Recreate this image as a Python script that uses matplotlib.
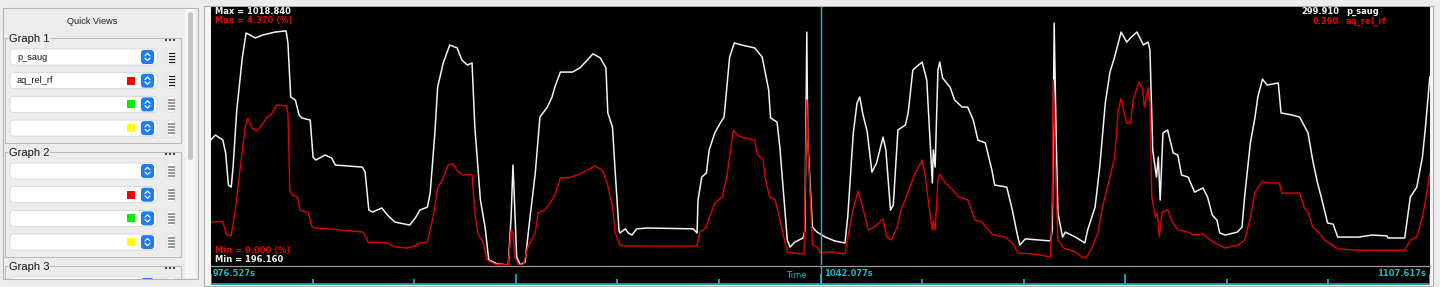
import matplotlib
matplotlib.use("Agg")
import matplotlib.pyplot as plt
import numpy as np
from matplotlib.patches import Rectangle, FancyBboxPatch

# ---- data ----
T_START, T_END, T_CURSOR = 976.527, 1107.617, 1042.077
N_TICKS = 12

WHITE_NAME, WHITE_MIN, WHITE_MAX, WHITE_CUR = "p_saug", 196.160, 1018.840, 299.910
RED_NAME, RED_MIN, RED_MAX, RED_CUR = "aq_rel_rf", 0.000, 4.370, 0.290

white_t = [976.5, 977.0, 977.8, 978.1, 978.4, 978.7, 978.9, 979.3, 979.9, 980.3, 981.3, 982.1, 983.4, 984.6,
           984.8, 985.1, 985.6, 986.0, 986.3, 987.2, 987.5, 987.8, 988.8, 989.5, 989.9, 992.8, 993.1, 993.5,
           993.9, 994.9, 995.5, 996.3, 997.9, 998.5, 999.0, 999.8, 1000.1, 1000.6, 1000.9, 1001.5, 1002.2,
           1003.0, 1003.5, 1004.1, 1004.6, 1004.9, 1005.5, 1006.0, 1006.4, 1007.3, 1008.5, 1008.8, 1009.0,
           1009.1, 1009.4, 1009.8, 1010.3, 1010.8, 1011.4, 1011.9, 1012.7, 1013.2, 1013.5, 1014.1, 1015.4,
           1016.2, 1017.0, 1017.6, 1018.4, 1019.0, 1019.2, 1019.7, 1020.0, 1020.4, 1020.5, 1021.1, 1021.4,
           1021.8, 1022.3, 1023.5, 1028.4, 1028.8, 1028.9, 1029.3, 1029.8, 1030.1, 1030.7, 1031.3, 1031.7,
           1032.3, 1032.8, 1033.6, 1035.0, 1035.8, 1036.5, 1036.7, 1037.4, 1037.7, 1038.5, 1038.8, 1039.3,
           1040.2, 1040.4, 1040.6, 1040.7, 1041.2, 1041.7, 1042.6, 1043.6, 1044.7, 1045.0, 1045.6, 1046.0,
           1046.3, 1046.6, 1047.1, 1047.6, 1048.1, 1048.8, 1049.1, 1049.6, 1049.9, 1050.4, 1051.2, 1051.5,
           1052.0, 1053.0, 1053.5, 1053.9, 1054.1, 1054.2, 1054.4, 1054.7, 1054.9, 1055.2, 1056.0, 1056.5,
           1057.3, 1057.9, 1058.5, 1059.0, 1059.8, 1060.5, 1060.8, 1062.1, 1062.7, 1063.2, 1063.5, 1064.1,
           1066.8, 1067.0, 1067.2, 1067.4, 1067.6, 1068.1, 1068.4, 1069.5, 1070.5, 1070.8, 1071.6, 1072.1,
           1072.7, 1073.2, 1073.7, 1074.4, 1075.0, 1075.5, 1076.1, 1076.8, 1077.3, 1077.5, 1077.8, 1078.2,
           1078.4, 1078.6, 1078.9, 1079.4, 1080.0, 1080.5, 1080.9, 1081.6, 1082.3, 1083.2, 1083.7, 1084.2,
           1084.7, 1085.0, 1085.6, 1086.9, 1087.4, 1087.7, 1088.3, 1088.8, 1089.1, 1089.6, 1090.1, 1091.3,
           1091.6, 1092.8, 1093.6, 1094.5, 1095.0, 1095.5, 1096.0, 1096.6, 1097.2, 1097.7, 1099.9, 1101.4,
           1103.0, 1103.1, 1104.9, 1105.5, 1106.2, 1106.8, 1107.1, 1107.6]
white_v = [621, 638, 621, 577, 468, 461, 529, 723, 903, 985, 968, 978, 988, 992,
           951, 767, 757, 706, 696, 689, 563, 553, 570, 560, 536, 529, 512, 383,
           376, 390, 366, 342, 332, 356, 383, 393, 441, 645, 801, 883, 944,
           934, 893, 876, 883, 665, 417, 325, 213, 200, 196.2, 359, 536,
           461, 223, 196.2, 206, 349, 509, 699, 733, 767, 801, 852, 852,
           866, 893, 914, 900, 866, 713, 665, 509, 315, 305, 319, 305,
           298, 319, 322, 319, 305, 417, 495, 509, 587, 645, 679, 699,
           903, 951, 944, 934, 903, 791, 696, 682, 597, 281, 257, 274,
           288, 315, 988, 621, 325, 308, 291, 278, 271, 359, 645, 747,
           767, 713, 648, 512, 543, 631, 587, 383, 400, 655, 672, 713,
           859, 886, 825, 587, 475, 587, 529, 859, 886, 832, 801, 757,
           733, 733, 689, 621, 611, 519, 468, 461, 383, 305, 264, 285,
           278, 315, 1018.8, 655, 373, 291, 308, 291, 271, 315, 393, 529,
           747, 852, 903, 988, 954, 971, 988, 944, 954, 927, 587, 495,
           563, 417, 645, 655, 577, 570, 502, 495, 444, 458, 427, 366,
           349, 305, 298, 308, 325, 434, 611, 699, 767, 828, 808, 815,
           713, 706, 699, 645, 553, 478, 417, 339, 335, 291, 291, 298,
           295, 288, 288, 427, 461, 563, 655, 835]

red_t = [976.5, 977.8, 978.2, 978.7, 979.1, 979.6, 980.2, 980.5, 980.9, 981.5, 982.0, 982.5, 983.1, 983.6,
         984.6, 984.8, 985.0, 985.3, 985.8, 986.1, 987.0, 987.4, 987.9, 989.6, 990.1, 992.8, 993.1, 993.4,
         994.4, 995.5, 996.3, 997.6, 998.2, 999.0, 999.8, 1000.4, 1000.9, 1001.4, 1002.0, 1002.5, 1003.1,
         1003.6, 1004.6, 1004.9, 1005.2, 1005.8, 1006.2, 1007.1, 1008.5, 1008.8, 1009.0, 1009.2, 1009.6,
         1010.1, 1010.6, 1011.4, 1011.7, 1012.4, 1013.0, 1013.5, 1014.1, 1014.9, 1016.0, 1017.0, 1017.8,
         1018.6, 1019.1, 1019.7, 1020.0, 1020.5, 1021.1, 1028.8, 1029.1, 1029.7, 1030.7, 1031.5, 1032.0,
         1032.7, 1033.1, 1033.6, 1035.0, 1035.3, 1035.9, 1036.1, 1036.6, 1037.2, 1038.5, 1039.3, 1040.3,
         1040.6, 1040.7, 1041.2, 1041.7, 1042.1, 1043.3, 1044.7, 1045.5, 1046.1, 1046.6, 1047.2, 1047.9,
         1048.8, 1049.2, 1049.7, 1050.3, 1050.8, 1051.5, 1052.2, 1053.0, 1053.3, 1053.9, 1054.1, 1054.2,
         1054.4, 1054.7, 1054.9, 1055.5, 1056.3, 1056.9, 1057.9, 1058.7, 1059.4, 1060.1, 1060.6, 1061.9,
         1062.7, 1063.3, 1065.1, 1066.8, 1067.0, 1067.1, 1067.4, 1067.6, 1068.2, 1069.5, 1070.3, 1070.7,
         1071.3, 1071.9, 1072.4, 1073.2, 1073.7, 1074.1, 1074.4, 1074.6, 1075.0, 1075.4, 1075.7, 1076.3,
         1076.7, 1076.9, 1077.3, 1077.5, 1077.7, 1078.1, 1078.3, 1078.5, 1078.8, 1079.4, 1079.9, 1080.5,
         1081.6, 1082.1, 1083.2, 1083.7, 1084.5, 1085.6, 1087.0, 1087.7, 1088.3, 1088.8, 1089.6, 1090.1,
         1091.4, 1091.7, 1093.6, 1094.1, 1094.5, 1095.0, 1095.6, 1096.3, 1097.1, 1097.7, 1099.9, 1104.9,
         1105.5, 1106.2, 1106.8, 1107.2, 1107.6]
red_v = [1.02, 1.02, 0.71, 0.69, 1.23, 2.17, 3.26, 3.47, 3.24, 3.17, 3.31, 3.47, 3.59, 3.78,
         3.76, 3.59, 1.77, 1.65, 1.61, 1.30, 1.23, 0.90, 0.87, 0.85, 0.83, 0.78, 0.71, 0.54,
         0.54, 0.52, 0.43, 0.40, 0.43, 0.52, 0.54, 1.13, 1.82, 2.01, 2.36, 2.39, 2.20,
         2.13, 2.13, 1.23, 0.76, 0.52, 0.12, 0.02, 0.0, 0.83, 0.76, 0.19, 0.0,
         0.0, 0.43, 0.76, 1.23, 1.30, 1.46, 1.65, 2.06, 2.06, 2.13, 2.24, 2.34,
         2.24, 1.96, 1.37, 0.76, 0.47, 0.45, 0.45, 0.78, 0.87, 1.46, 1.61, 2.08,
         3.19, 3.07, 3.02, 2.95, 2.60, 2.48, 2.08, 1.61, 1.54, 0.31, 0.28, 0.26,
         3.90, 2.95, 0.47, 0.43, 0.29, 0.31, 0.26, 1.23, 1.75, 1.37, 0.83, 0.90,
         1.09, 0.66, 0.59, 0.90, 1.35, 1.72, 2.15, 2.48, 2.15, 1.13, 0.83, 1.06,
         0.83, 2.01, 2.15, 1.94, 1.77, 1.61, 1.54, 1.06, 1.02, 0.83, 0.71, 0.66,
         0.52, 0.28, 0.26, 0.19, 1.54, 4.37, 1.84, 0.59, 0.40, 0.31, 0.17, 0.19,
         0.43, 0.76, 1.37, 2.08, 2.55, 3.66, 3.94, 3.73, 3.35, 3.35, 3.90, 4.32,
         4.18, 3.73, 4.18, 3.83, 1.61, 1.13, 1.23, 0.66, 1.25, 1.30, 1.02, 0.83,
         0.78, 0.71, 0.73, 0.64, 0.52, 0.40, 0.47, 0.59, 1.13, 1.72, 1.98, 1.94,
         1.94, 1.70, 1.70, 1.35, 1.25, 0.90, 0.78, 0.59, 0.47, 0.38, 0.35, 0.35,
         0.59, 0.66, 1.13, 1.61, 2.17]

# quick-view panel: graph -> channel names / colour swatches
graph_names = ["Graph 1", "Graph 2", "Graph 3"]
graph_channels = [[WHITE_NAME, RED_NAME, "", ""], ["", "", "", ""], [""]]
slot_colors = [None, "#ff0000", "#00ee00", "#ffff00"]

# ---- colours / fonts ----
BG = "#ececec"
CYAN = "#1fb8c2"
WHITE = "#f2f2f2"
RED = "#e00000"
plt.rcParams["font.family"] = ["DejaVu Sans"]
UI_FONT = ["Liberation Sans", "DejaVu Sans"]

W, H = 1440, 287
fig = plt.figure(figsize=(W / 100, H / 100), dpi=100, facecolor=BG)

# pixel-space overlay for the window chrome
ui = fig.add_axes([0, 0, 1, 1])
ui.set_xlim(0, W)
ui.set_ylim(H, 0)
ui.axis("off")

# ---- left "Quick Views" panel ----
panel = Rectangle((3, 8), 195, 271, fc=BG, ec="#b4b4b4", lw=0.8)
ui.add_patch(panel)
ui.add_patch(Rectangle((185, 9), 10, 269, fc="#f6f6f6", ec="none"))
ui.add_patch(FancyBboxPatch((188, 12), 5, 148, boxstyle="round,pad=0,rounding_size=2.5",
                            fc="#c4c4c4", ec="none"))
ui.text(92, 21, "Quick Views", ha="center", va="center", fontsize=6.6, color="#222222", family=UI_FONT)

for gi, (gname, chans) in enumerate(zip(graph_names, graph_channels)):
    y0 = 38 + gi * 114
    box = Rectangle((5, y0), 176, 105, fc="none", ec="#b8b8b8", lw=0.7)
    ui.add_patch(box)
    box.set_clip_path(panel)
    ui.text(9, y0 + 1, gname, ha="left", va="center", fontsize=8, color="#111111", family=UI_FONT,
            bbox=dict(fc=BG, ec="none", pad=0.6))
    ui.text(170, y0 + 3, "•••", ha="center", va="center", fontsize=5, color="#111111")
    for ri, name in enumerate(chans):
        yc = y0 + 19 + ri * 23.7
        items = []
        items.append(FancyBboxPatch((10, yc - 8), 147, 16, boxstyle="round,pad=0,rounding_size=4",
                                    fc="white", ec="#d2d2d2", lw=0.5))
        items.append(FancyBboxPatch((141, yc - 7), 13, 14, boxstyle="round,pad=0,rounding_size=3",
                                    fc="#1b7cf5", ec="none"))
        if slot_colors[ri]:
            items.append(Rectangle((127, yc - 4), 8, 8, fc=slot_colors[ri], ec="none"))
        items.append(FancyBboxPatch((167, yc - 8), 8, 16, boxstyle="round,pad=0,rounding_size=3.5",
                                    fc="white", ec="#d0d0d0", lw=0.4))
        for p in items:
            ui.add_patch(p)
            p.set_clip_path(panel)
        for s in (-1, 1):
            ln, = ui.plot([145, 147.5, 150], [yc + s * 1.2, yc + s * 3.6, yc + s * 1.2],
                          color="white", lw=0.9, solid_capstyle="round")
            ln.set_clip_path(panel)
        active = gi == 0 and ri < 2
        for dy in (-4.5, -1.5, 1.5, 4.5):
            ln, = ui.plot([168.5, 173.5], [yc + dy, yc + dy],
                          color="#111111" if active else "#8c8c8c", lw=0.9 if active else 1.3)
            ln.set_clip_path(panel)
        if name:
            t = ui.text(17, yc, name, ha="left", va="center", fontsize=6.6, color="#111111", family=UI_FONT)
            t.set_clip_path(panel)

# ---- plot frame ----
ui.plot([203.5, 203.5], [6, 287], color="#b0b0b0", lw=0.8)
ui.add_patch(Rectangle((204, 6), 1229, 280, fc="#f4f4f4", ec="#a8a8a8", lw=0.7))
ui.add_patch(Rectangle((211, 7), 1219, 277.5, fc="black", ec="none"))
ui.plot([211, 1430], [265.5, 265.5], color="#9a9a9a", lw=0.9)

# ---- data axes (one per channel, each scaled to its own min/max) ----
PLOT_L, PLOT_R, PLOT_T, PLOT_B = 211, 1430, 7, 265
pos = [PLOT_L / W, (H - PLOT_B) / H, (PLOT_R - PLOT_L) / W, (PLOT_B - PLOT_T) / H]
ax = fig.add_axes(pos)
ax.set_facecolor("none")
ax.set_xlim(T_START, T_END)
ax.set_ylim(WHITE_MIN, WHITE_MIN + (WHITE_MAX - WHITE_MIN) * 258 / 242)
ax.axis("off")
ax.plot(white_t, white_v, color=WHITE, lw=1.1, zorder=2)

ax2 = fig.add_axes(pos)
ax2.set_facecolor("none")
ax2.set_xlim(T_START, T_END)
ax2.set_ylim(RED_MIN, RED_MAX * 258 / 185)
ax2.axis("off")
ax2.plot(red_t, red_v, color=RED, lw=1.0, zorder=3)
ax2.axvline(T_CURSOR, color=CYAN, lw=1.0, zorder=4)

# ---- time strip ----
ts = fig.add_axes([PLOT_L / W, (H - 284.5) / H, (PLOT_R - PLOT_L) / W, 19 / H])
ts.set_facecolor("none")
ts.set_xlim(T_START, T_END)
ts.set_ylim(0, 1)
ts.axis("off")
tick_t = np.linspace(T_START, T_END, N_TICKS + 1)
for k, tt in enumerate(tick_t):
    ts.vlines(tt, 0.02, 0.56 if k % 3 == 0 else 0.30, color=CYAN, lw=1.2)
ts.axhline(0.04, color=CYAN, lw=1.2)
ts.axvline(T_CURSOR, color=CYAN, lw=1.0)

tkw = dict(fontsize=6, color=CYAN, va="center", fontweight="bold")
ui.text(213, 274, f"{T_START:.3f}s", ha="left", **tkw)
ui.text(807, 275, "Time", ha="right", fontsize=6, color=CYAN, va="center")
ui.text(824, 274, f"{T_CURSOR:.3f}s", ha="left", **tkw)
ui.text(1426, 274, f"{T_END:.3f}s", ha="right", **tkw)

# ---- min / max / cursor readouts ----
lkw = dict(fontsize=6, va="center", fontweight="bold")
ui.text(215, 12, f"Max = {WHITE_MAX:.3f}", ha="left", color=WHITE, **lkw)
ui.text(215, 21, f"Max = {RED_MAX:.3f} (%)", ha="left", color=RED, **lkw)
ui.text(215, 250, f"Min = {RED_MIN:.3f} (%)", ha="left", color=RED, **lkw)
ui.text(215, 259, f"Min = {WHITE_MIN:.3f}", ha="left", color=WHITE, **lkw)
ui.text(1339, 12, f"{WHITE_CUR:.3f}", ha="right", color=WHITE, **lkw)
ui.text(1346, 12, WHITE_NAME, ha="left", color=WHITE, **lkw)
ui.text(1339, 21, f"{RED_CUR:.3f}", ha="right", color=RED, **lkw)
ui.text(1346, 21, RED_NAME, ha="left", color=RED, **lkw)

fig.savefig("out.png", dpi=100, facecolor=BG)
